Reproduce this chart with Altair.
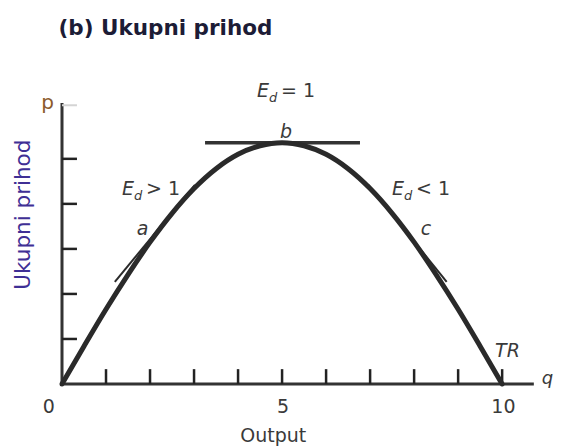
import altair as alt
import pandas as pd

# ---- data ----
q_vals = [0, 0.5, 1, 1.5, 2, 2.5, 3, 3.5, 4, 4.5, 5,
          5.5, 6, 6.5, 7, 7.5, 8, 8.5, 9, 9.5, 10]
tr_vals = [0, 0.84, 1.66, 2.43, 3.15, 3.79, 4.34, 4.78, 5.10, 5.29, 5.36,
           5.29, 5.10, 4.78, 4.34, 3.79, 3.15, 2.43, 1.66, 0.84, 0]

tan_a_q = [1.2, 3.02]
tan_a_v = [2.27, 4.42]
tan_b_q = [3.25, 6.77]
tan_b_v = [5.36, 5.36]
tan_c_q = [6.96, 8.74]
tan_c_v = [4.42, 2.27]

x_ticks = [1, 2, 3, 4, 5, 6, 7, 8, 9, 10]
y_ticks = [1, 2, 3, 4, 5]
y_top = 6.24
x_dom = 10.86
x_end = 10.72

x_lab_text = ["0", "5", "10"]
x_lab_q = [-0.3, 5.02, 10.03]

ed_q = [4.43, 1.364, 7.5]
ed_v = [6.38, 4.2, 4.2]
ed_rest = ["= 1", "> 1", "< 1"]

pt_text = ["b", "a", "c"]
pt_q = [5.09, 1.83, 8.27]
pt_v = [5.47, 3.31, 3.31]

FONT = "DejaVu Sans"
GRAY = "#3a3a3a"
TICK_V = 0.33
TICK_Q = 0.34

xs = alt.Scale(domain=[0, x_dom], nice=False, zero=False)
ys = alt.Scale(domain=[0, y_top], nice=False, zero=False)
X = alt.X("q:Q", scale=xs, axis=None)
Y = alt.Y("v:Q", scale=ys, axis=None)


def df(**kw):
    return pd.DataFrame(kw)


curve = alt.Chart(df(q=q_vals, v=tr_vals)).mark_line(
    color="#2a2a2a", strokeWidth=5, interpolate="monotone", strokeCap="round"
).encode(x=X, y=Y)

tan_a = alt.Chart(df(q=tan_a_q, v=tan_a_v)).mark_line(color="#2a2a2a", strokeWidth=2).encode(x=X, y=Y)
tan_b = alt.Chart(df(q=tan_b_q, v=tan_b_v)).mark_line(color="#333333", strokeWidth=3.5).encode(x=X, y=Y)
tan_c = alt.Chart(df(q=tan_c_q, v=tan_c_v)).mark_line(color="#2a2a2a", strokeWidth=2).encode(x=X, y=Y)

x_axis = alt.Chart(df(q=[0], q2=[x_end], v=[0])).mark_rule(color="#333333", strokeWidth=3).encode(
    x=X, x2="q2:Q", y=Y)
y_axis = alt.Chart(df(q=[0], v=[0], v2=[y_top])).mark_rule(color="#333333", strokeWidth=3).encode(
    x=X, y=Y, y2="v2:Q")

xt = alt.Chart(df(q=x_ticks, v=[0] * len(x_ticks), v2=[TICK_V] * len(x_ticks))).mark_rule(
    color="#222222", strokeWidth=2.5).encode(x=X, y=Y, y2="v2:Q")
yt = alt.Chart(df(q=[0] * len(y_ticks), q2=[TICK_Q] * len(y_ticks), v=y_ticks)).mark_rule(
    color="#222222", strokeWidth=2.5).encode(x=X, x2="q2:Q", y=Y)
yt_top = alt.Chart(df(q=[0], q2=[TICK_Q], v=[y_top - 0.05])).mark_rule(
    color="#d4d4d4", strokeWidth=2).encode(x=X, x2="q2:Q", y=Y)


def text_layer(qs, vs, texts, **style):
    base = dict(font=FONT, fontSize=19, color=GRAY, align="left", baseline="alphabetic")
    base.update(style)
    return alt.Chart(df(q=qs, v=vs, t=texts)).mark_text(**base).encode(x=X, y=Y, text="t:N")


xlabels = text_layer(x_lab_q, [-0.64] * 3, x_lab_text, align="center")
output_t = text_layer([4.8], [-1.29], ["Output"], align="center")
q_t = text_layer([10.9], [0.0], ["q"], fontStyle="italic", fontSize=18)
p_t = text_layer([-0.33], [6.11], ["p"], align="center", color="#8b5a2b", fontSize=20)
ytitle = text_layer([-0.87], [3.76], ["Ukupni prihod"], align="center", baseline="middle",
                    angle=270, fontSize=21.5, color="#3f2f95")
title = text_layer([2.35], [7.76], ["(b) Ukupni prihod"], align="center",
                   fontSize=21.5, fontWeight="bold", color="#1c1c36")

ed_E = text_layer(ed_q, ed_v, ["E"] * 3, fontStyle="italic")
ed_d = text_layer(ed_q, ed_v, ["d"] * 3, fontStyle="italic", fontSize=13, dx=12, dy=5)
ed_r = text_layer(ed_q, ed_v, ed_rest, dx=24)
pts = text_layer(pt_q, pt_v, pt_text, align="center", fontStyle="italic")
tr_t = text_layer([9.84], [0.6], ["TR"], fontStyle="italic")

chart = alt.layer(
    x_axis, y_axis, xt, yt, yt_top, tan_b, curve, tan_a, tan_c,
    xlabels, output_t, q_t, p_t, ytitle, title, ed_E, ed_d, ed_r, pts, tr_t
).properties(
    width=478, height=281,
    padding={"left": 54, "top": 95, "right": 14, "bottom": 62},
    autosize="none",
).configure_view(stroke=None)

chart.save("out.html", embed_options={"renderer": "svg", "actions": False})
